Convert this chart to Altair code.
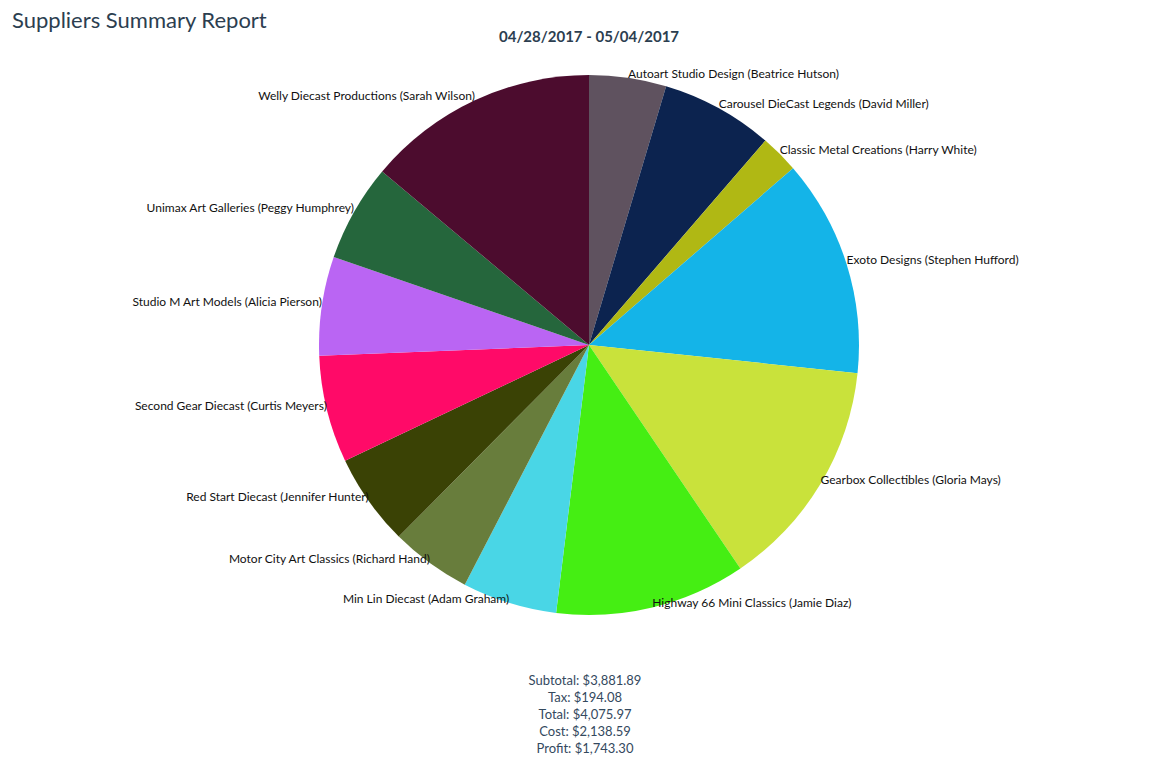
import math
import altair as alt
import pandas as pd

# ---- data -------------------------------------------------------------
suppliers = [
    "Autoart Studio Design (Beatrice Hutson)",
    "Carousel DieCast Legends (David Miller)",
    "Classic Metal Creations (Harry White)",
    "Exoto Designs (Stephen Hufford)",
    "Gearbox Collectibles (Gloria Mays)",
    "Highway 66 Mini Classics (Jamie Diaz)",
    "Min Lin Diecast (Adam Graham)",
    "Motor City Art Classics (Richard Hand)",
    "Red Start Diecast (Jennifer Hunter)",
    "Second Gear Diecast (Curtis Meyers)",
    "Studio M Art Models (Alicia Pierson)",
    "Unimax Art Galleries (Peggy Humphrey)",
    "Welly Diecast Productions (Sarah Wilson)",
]
sales = [179.0, 260.9, 89.5, 505.7, 538.1, 443.2, 220.0,
         187.6, 213.5, 249.1, 229.7, 226.4, 539.2]
colors = ["#5f525f", "#0c234f", "#b0b814", "#14b4e8", "#c9e23b", "#45ee13",
          "#49d6e6", "#687d3c", "#3a4205", "#ff0a68", "#ba65f3", "#25663c",
          "#4c0c2e"]
title_text = ["Suppliers Summary Report"]
subtitle_text = ["04/28/2017 - 05/04/2017"]
footer_lines = ["Subtotal: $3,881.89", "Tax: $194.08", "Total: $4,075.97",
                "Cost: $2,138.59", "Profit: $1,743.30"]

df = pd.DataFrame({"supplier": suppliers, "sales": sales,
                   "idx": list(range(len(suppliers)))})

CX, CY, R = 581, 337, 270
FONT = "Lato"
TXT = "#2c3e50"

theta_scale = alt.Scale(domain=[0, 1], range=[0, 2 * math.pi])

base = (
    alt.Chart(df)
    .transform_joinaggregate(total="sum(sales)")
    .transform_window(cum="sum(sales)", sort=[alt.SortField("idx", order="ascending")],
                      frame=[None, 0])
    .transform_calculate(frac="datum.sales / datum.total",
                         mid="(datum.cum - datum.sales / 2) / datum.total")
)

pie = base.mark_arc(outerRadius=R, strokeWidth=0).encode(
    theta=alt.Theta("frac:Q", stack=True, scale=theta_scale),
    order=alt.Order("idx:Q"),
    color=alt.Color("supplier:N", scale=alt.Scale(domain=suppliers, range=colors),
                    legend=None),
    x=alt.value(CX), y=alt.value(CY),
)

def labels(cond, align):
    return base.transform_filter(cond).mark_text(
        radius=R, align=align, baseline="middle", dy=-4,
        font=FONT, fontSize=12, color="#111111",
    ).encode(
        theta=alt.Theta("mid:Q", stack=False, scale=theta_scale),
        text="supplier:N",
        x=alt.value(CX), y=alt.value(CY),
    )

right_labels = labels("datum.mid < 0.5", "left")
left_labels = labels("datum.mid >= 0.5", "right")

title = alt.Chart(pd.DataFrame({"t": title_text})).mark_text(
    align="left", baseline="top", font=FONT, fontSize=22, color=TXT
).encode(text="t:N", x=alt.value(4), y=alt.value(3))

subtitle = alt.Chart(pd.DataFrame({"t": subtitle_text})).mark_text(
    align="center", baseline="middle", font=FONT, fontSize=15,
    fontWeight="bold", color=TXT
).encode(text="t:N", x=alt.value(CX), y=alt.value(29))

footer = alt.Chart(pd.DataFrame({"k": [0]})).mark_text(
    align="center", baseline="top", font=FONT, fontSize=13, color="#34495e",
    lineHeight=17
).encode(text=alt.value(footer_lines), x=alt.value(CX - 4), y=alt.value(667))

chart = (
    alt.layer(pie, right_labels, left_labels, title, subtitle, footer)
    .properties(width=1100, height=752, autosize=alt.AutoSizeParams(type="none"),
                padding=0)
    .configure_view(stroke=None)
)

chart.save("out.html", embed_options={"renderer": "svg", "actions": False})
